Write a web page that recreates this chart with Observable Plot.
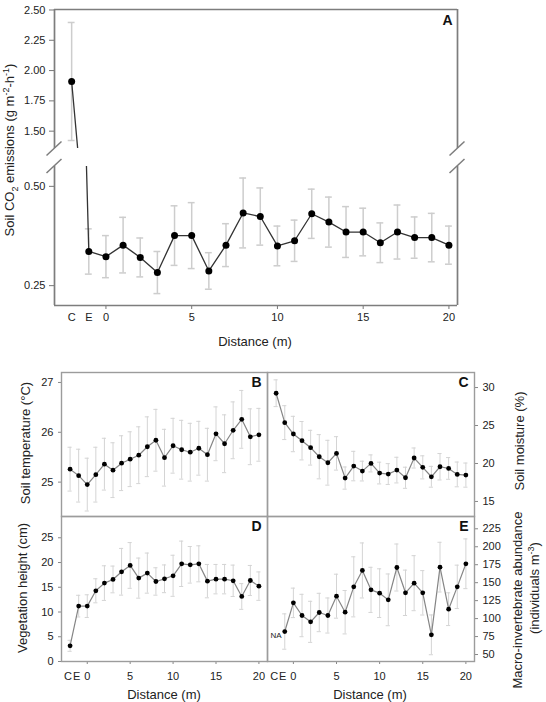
<!DOCTYPE html>
<html>
<head>
<meta charset="utf-8">
<script src="https://cdn.jsdelivr.net/npm/d3@7"></script>
<script src="https://cdn.jsdelivr.net/npm/@observablehq/plot@0.6"></script>
<style>
  body { margin: 0; background: #fff; font-family: "Liberation Sans", Arial, sans-serif; }
  #fig { position: relative; width: 546px; height: 702px; overflow: hidden; background: #fff; }
  #fig svg { position: absolute; left: 0; overflow: visible; }
  .title { position: absolute; font-size: 13px; color: #222; white-space: nowrap; line-height: 1; }
  .h { transform: translate(-50%, -50%); }
  .v { transform: translate(-50%, -50%) rotate(-90deg); }
  .title sub, .title sup { font-size: 9px; }
</style>
</head>
<body>
<div id="fig"></div>
<script>
// Sampling positions along the transect: control (C), edge (E), then metres 0–20
const distanceLabels = ["C", "E", "0", "1", "2", "3", "4", "5", "6", "7", "8", "9", "10",
  "11", "12", "13", "14", "15", "16", "17", "18", "19", "20"];

// A: soil CO2 emissions (g m-2 h-1), mean and error
const co2Mean = [1.91, 0.336, 0.323, 0.352, 0.321, 0.283, 0.376, 0.376, 0.287, 0.352, 0.433, 0.424,
  0.350, 0.363, 0.431, 0.410, 0.385, 0.385, 0.358, 0.385, 0.371, 0.371, 0.352];
const co2Err = [0.487, 0.057, 0.053, 0.070, 0.049, 0.053, 0.075, 0.083, 0.046, 0.054, 0.088, 0.072,
  0.050, 0.052, 0.062, 0.063, 0.064, 0.060, 0.050, 0.068, 0.052, 0.061, 0.048];

// B: soil temperature (°C)
const tempMean = [25.26, 25.13, 24.95, 25.15, 25.36, 25.24, 25.38, 25.46, 25.54, 25.71, 25.84, 25.49,
  25.73, 25.65, 25.60, 25.68, 25.55, 25.97, 25.77, 26.04, 26.26, 25.91, 25.95];
const tempErr = [0.44, 0.53, 0.53, 0.55, 0.52, 0.55, 0.55, 0.55, 0.57, 0.60, 0.62, 0.57,
  0.55, 0.59, 0.58, 0.54, 0.53, 0.54, 0.58, 0.57, 0.58, 0.56, 0.53];

// C: soil moisture (%)
const moistMean = [29.25, 25.38, 23.88, 23.0, 22.08, 20.89, 20.10, 21.33, 18.08, 19.66, 19.0, 20.01,
  18.74, 18.61, 19.13, 18.12, 20.72, 19.49, 18.25, 19.57, 19.35, 18.56, 18.47];
const moistErr = [1.76, 2.23, 2.33, 2.53, 2.29, 2.91, 2.95, 2.2, 1.46, 1.94, 1.3, 1.12,
  1.43, 1.37, 1.69, 1.39, 1.32, 1.52, 1.37, 1.74, 1.43, 1.63, 1.59];

// D: vegetation height (cm)
const vegMean = [3.17, 11.19, 11.19, 14.29, 15.84, 16.58, 18.13, 19.41, 16.85, 17.86, 16.17, 16.71,
  17.32, 19.74, 19.54, 19.74, 16.24, 16.64, 16.64, 16.31, 13.14, 16.37, 15.23];
const vegErr = [1.11, 2.19, 2.29, 2.43, 3.5, 2.7, 4.72, 4.62, 4.05, 4.05, 2.77, 2.8,
  4.15, 4.59, 3.7, 3.64, 3.37, 2.97, 2.97, 3.17, 2.6, 3.04, 2.87];

// E: macro-invertebrate abundance (individuals m-3); not sampled at the control
const macroMean = [null, 82.0, 121.9, 104.3, 95.5, 108.5, 104.3, 131.2, 108.9, 144.2, 167.0, 140.0,
  135.4, 126.1, 171.1, 135.9, 149.3, 135.9, 77.4, 171.6, 113.1, 144.2, 176.3];
const macroErr = [null, 24.6, 20.5, 29.5, 28.6, 26.7, 24.4, 30.6, 30.2, 41.8, 38.3, 31.4,
  33.9, 36.0, 32.7, 31.6, 38.3, 30.9, 27.7, 34.6, 22.8, 30.2, 34.6];
const macroNotes = [{dist: "C", text: "NA"}];

// Axis ticks
const distanceTicks = [0, 5, 10, 15, 20];
const siteTicks = ["C", "E"];
const co2TicksHigh = [1.5, 1.75, 2.0, 2.25, 2.5];
const co2TicksLow = [0.25, 0.5];
const tempTicks = [25, 26, 27];
const moistTicks = [15, 20, 25, 30];
const vegTicks = [0, 5, 10, 15, 20, 25];
const macroTicks = [50, 75, 100, 125, 150, 175, 200, 225];

const distX = (lab) => lab === "C" ? -2 : lab === "E" ? -1 : +lab;
const rowsOf = (mean, err) => distanceLabels.map((lab, i) => ({x: distX(lab), mean: mean[i], err: err[i]}))
  .filter(d => d.mean != null);

const FONT = "Liberation Sans, Arial, sans-serif";
const baseStyle = {background: "transparent", overflow: "visible", fontFamily: FONT, fontSize: "11px", color: "#222"};
const intFmt = d3.format("d");

// error bars with caps, connecting line and dots
function seriesMarks(rows, o) {
  const common = {stroke: o.errColor, strokeWidth: o.errWidth, clip: true};
  return [
    Plot.ruleX(rows, {x: "x", y1: d => d.mean - d.err, y2: d => d.mean + d.err, ...common}),
    Plot.ruleY(rows, {y: d => d.mean + d.err, x1: d => d.x - o.cap, x2: d => d.x + o.cap, ...common}),
    Plot.ruleY(rows, {y: d => d.mean - d.err, x1: d => d.x - o.cap, x2: d => d.x + o.cap, ...common}),
    Plot.line(rows, {x: "x", y: "mean", stroke: o.lineColor, strokeWidth: o.lineWidth, clip: true}),
    Plot.dot(rows, {x: "x", y: "mean", r: o.r, fill: "#000", stroke: "none", clip: true})
  ];
}

const fig = document.getElementById("fig");
function place(svg, top) { svg.style.top = top + "px"; fig.appendChild(svg); }

// ---------- Panel A (broken y axis) ----------
const co2Rows = rowsOf(co2Mean, co2Err);
const xA = [-3, 20.5];
const yHigh = [1.357, 2.504];
const yLow = [0.2, 0.55];
const styleA = {errColor: "#cdcdcd", errWidth: 1.5, lineColor: "#333", lineWidth: 1.3, r: 3.5, cap: 0.2};
const frameA = {stroke: "#7d7d7d", strokeWidth: 1.7};

place(Plot.plot({
  width: 546, height: 149, marginLeft: 54, marginRight: 89, marginTop: 9, marginBottom: 1,
  style: baseStyle,
  x: {domain: xA, axis: null},
  y: {domain: yHigh},
  marks: [
    Plot.axisY({ticks: co2TicksHigh, tickFormat: d3.format(".2f"), tickSize: 5, tickPadding: 4, stroke: "#777", label: null}),
    ...seriesMarks(co2Rows, styleA),
    Plot.ruleX(xA, {...frameA}),
    Plot.ruleY([yHigh[1]], {...frameA}),
    Plot.text(["A"], {frameAnchor: "top-right", dx: -5, dy: 6, fontWeight: "bold", fontSize: 14, fill: "#111"})
  ]
}), 0);

place(Plot.plot({
  width: 546, height: 175, marginLeft: 54, marginRight: 89, marginTop: 6, marginBottom: 30,
  style: baseStyle,
  x: {domain: xA},
  y: {domain: yLow},
  marks: [
    Plot.axisY({ticks: co2TicksLow, tickFormat: d3.format(".2f"), tickSize: 5, tickPadding: 4, stroke: "#777", label: null}),
    Plot.axisX({ticks: distanceTicks, tickSize: 4, tickPadding: 4, stroke: "#777", label: null}),
    Plot.axisX({ticks: siteTicks.map(distX), tickFormat: (d) => siteTicks[d + 2], tickSize: 0, tickPadding: 8, label: null}),
    ...seriesMarks(co2Rows, styleA),
    Plot.ruleX(xA, {...frameA}),
    Plot.ruleY([yLow[0]], {...frameA})
  ]
}), 160);

// axis-break marks on both sides of panel A
const brk = d3.create("svg").attr("width", 546).attr("height", 200).style("top", "0px");
for (const cx of [54, 457]) {
  for (const cy of [148.5, 166]) {
    brk.append("line").attr("x1", cx - 7.5).attr("y1", cy + 7).attr("x2", cx + 7.5).attr("y2", cy - 7)
      .attr("stroke", "#7d7d7d").attr("stroke-width", 1.5);
  }
}
fig.appendChild(brk.node());

// ---------- Panels B–E ----------
const xLow = [-3, 21];
const styleLow = {errColor: "#d4d4d4", errWidth: 1, lineColor: "#858585", lineWidth: 1.2, r: 2.4, cap: 0.24};
const frameLow = {stroke: "#9c9c9c", strokeWidth: 1.4};
const letter = (t) => Plot.text([t], {frameAnchor: "top-right", dx: -6, dy: 5, fontWeight: "bold", fontSize: 14, fill: "#111"});
const lowAxisX = () => [
  Plot.axisX({ticks: distanceTicks, tickSize: 3, tickPadding: 8, stroke: "#888", label: null}),
  Plot.axisX({ticks: siteTicks.map(distX), tickFormat: (d) => siteTicks[d + 2], tickSize: 0, tickPadding: 11, dx: -2, label: null})
];

// B: soil temperature
place(Plot.plot({
  width: 546, height: 157, marginLeft: 61, marginRight: 279, marginTop: 12, marginBottom: 1,
  style: baseStyle,
  x: {domain: xLow, axis: null},
  y: {domain: [24.31, 27.2]},
  marks: [
    Plot.axisY({ticks: tempTicks, tickFormat: intFmt, tickSize: 3, tickPadding: 5, stroke: "#888", label: null}),
    ...seriesMarks(rowsOf(tempMean, tempErr), styleLow),
    Plot.frame(frameLow),
    letter("B")
  ]
}), 360);

// C: soil moisture
place(Plot.plot({
  width: 546, height: 157, marginLeft: 267, marginRight: 72, marginTop: 12, marginBottom: 1,
  style: baseStyle,
  x: {domain: xLow, axis: null},
  y: {domain: [13.02, 31.98]},
  marks: [
    Plot.axisY({anchor: "right", ticks: moistTicks, tickFormat: intFmt, tickSize: 3, tickPadding: 5, stroke: "#888", label: null}),
    ...seriesMarks(rowsOf(moistMean, moistErr), styleLow),
    Plot.frame(frameLow),
    letter("C")
  ]
}), 360);

// D: vegetation height
place(Plot.plot({
  width: 546, height: 185, marginLeft: 61, marginRight: 279, marginTop: 0, marginBottom: 40,
  style: baseStyle,
  x: {domain: xLow},
  y: {domain: [0, 29.3]},
  marks: [
    Plot.axisY({ticks: vegTicks, tickFormat: intFmt, tickSize: 3, tickPadding: 5, stroke: "#888", label: null}),
    ...lowAxisX(),
    ...seriesMarks(rowsOf(vegMean, vegErr), styleLow),
    Plot.frame(frameLow),
    letter("D")
  ]
}), 516);

// E: macro-invertebrate abundance
place(Plot.plot({
  width: 546, height: 185, marginLeft: 267, marginRight: 72, marginTop: 0, marginBottom: 40,
  style: baseStyle,
  x: {domain: xLow},
  y: {domain: [40.3, 242.1]},
  marks: [
    Plot.axisY({anchor: "right", ticks: macroTicks, tickFormat: intFmt, tickSize: 3, tickPadding: 5, stroke: "#888", label: null}),
    ...lowAxisX(),
    ...seriesMarks(rowsOf(macroMean, macroErr), styleLow),
    Plot.text(macroNotes, {x: d => distX(d.dist), frameAnchor: "bottom", dy: -24, text: "text", fontSize: 8, fill: "#222"}),
    Plot.frame(frameLow),
    letter("E")
  ]
}), 516);

// ---------- Axis titles ----------
const titles = [
  {html: "Soil CO<sub>2</sub> emissions (g m<sup>-2</sup>-h<sup>-1</sup>)", x: 11, y: 150, cls: "v"},
  {html: "Distance (m)", x: 255, y: 341, cls: "h"},
  {html: "Soil temperature (°C)", x: 25, y: 443, cls: "v"},
  {html: "Vegetation height (cm)", x: 22, y: 588, cls: "v"},
  {html: "Soil moisture (%)", x: 519, y: 441, cls: "v"},
  {html: "Macro-invertebrate abundance", x: 517, y: 600, cls: "v"},
  {html: "(individuals m<sup>-3</sup>)", x: 534, y: 588, cls: "v"},
  {html: "Distance (m)", x: 164, y: 694, cls: "h"},
  {html: "Distance (m)", x: 370, y: 694, cls: "h"}
];
for (const t of titles) {
  const el = document.createElement("div");
  el.className = "title " + t.cls;
  el.style.left = t.x + "px";
  el.style.top = t.y + "px";
  el.innerHTML = t.html;
  fig.appendChild(el);
}
</script>
</body>
</html>
